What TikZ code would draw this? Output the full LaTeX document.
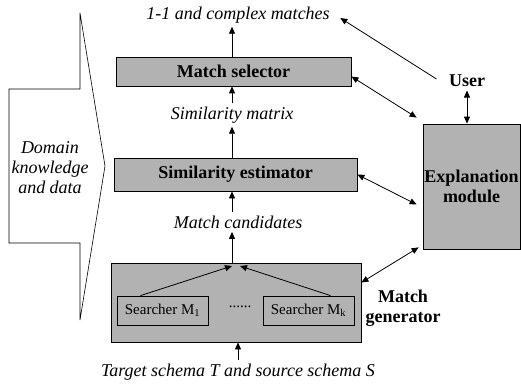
\documentclass[tikz,border=0pt]{standalone}
\usepackage{fontspec}
\setmainfont{Liberation Serif}
\usetikzlibrary{arrows.meta,positioning}
\definecolor{boxgray}{RGB}{178,178,178}
\tikzset{
  stage/.style={draw,fill=boxgray,line width=0.8pt,inner sep=0pt,font=\fontsize{18}{20}\selectfont\bfseries},
  searcher/.style={draw,line width=0.8pt,inner sep=0pt,minimum width=91pt,minimum height=29pt,font=\fontsize{15}{17}\selectfont},
  data/.style={font=\fontsize{18}{20}\selectfont\itshape},
  tag/.style={font=\fontsize{18}{20}\selectfont\bfseries},
  flow/.style={-{Triangle[length=7pt,width=6pt]},line width=0.8pt},
  both/.style={{Triangle[length=7pt,width=6pt]}-{Triangle[length=7pt,width=6pt]},line width=0.8pt},
}
\begin{document}
\begin{tikzpicture}[x=1pt,y=-1pt]
\useasboundingbox (0,0) rectangle (521,385);
% domain knowledge block arrow
\draw[line width=0.6pt] (80,13) -- (80,89) -- (9,89) -- (9,243) -- (80,243) -- (80,320) -- (105,166) -- cycle;
\node[data,align=center] (dom) at (50,168) {Domain\\knowledge\\and data};
% main stages
\node[stage,minimum width=235pt,minimum height=29pt] (sel) at (233.5,71.5) {Match selector};
\node[stage,minimum width=243pt,minimum height=33pt] (est) at (235.5,174.5) {Similarity estimator};
\node[stage,minimum width=250pt,minimum height=79pt] (gen) at (236,302.5) {};
\node[searcher] (m1) at (162.5,310.5) {Searcher M\textsubscript{1}};
\node[searcher] (mk) at (308.5,310.5) {Searcher M\textsubscript{k}};
\node[font=\fontsize{15}{17}\selectfont] (dots) at (240,307) {......};
\coordinate (join) at (236,266);
\node[tag,align=center] (genlbl) at (403,308) {Match\\generator};
\node[stage,minimum width=97pt,minimum height=125pt,align=center] (exp) at (471.5,186.5) {Explanation\\module};
\node[tag] (user) at (467,81) {User};
% data between stages
\node[data] (out) at (238,15) {1-1 and complex matches};
\node[data] (simmat) at (232,115) {Similarity matrix};
\node[data] (cand) at (238,222) {Match candidates};
\node[data] (input) at (238,372) {Target schema T and source schema S};
% flow
\draw[flow] (sel.north -| simmat) -- (out.south -| simmat);
\draw[flow] (simmat.north) -- (sel.south -| simmat);
\draw[flow] (est.north -| simmat) -- (simmat.south);
\draw[flow] (cand.north -| simmat) -- (est.south -| simmat);
\draw[flow] (gen.north -| simmat) -- (cand.south -| simmat);
\draw[flow] ([xshift=-22pt]m1.north) -- ([xshift=-4pt]join);
\draw[flow] ([xshift=22pt]mk.north) -- ([xshift=4pt]join);
\draw[flow] (input.north) -- (input.north |- gen.south);
% explanation links
\draw[flow] ([xshift=-9pt,yshift=2pt]user.west) -- ([xshift=7pt,yshift=-3pt]out.east);
\draw[both] (user.south) -- (exp.north -| user);
\draw[both] ([yshift=-5pt]sel.east) -- ([xshift=-6pt,yshift=6pt]exp.north west);
\draw[both] (est.east) -- ([xshift=-6pt,yshift=-18pt]exp.west);
\draw[both] ([yshift=20pt]gen.east) -- ([xshift=-4pt,yshift=2pt]exp.south west);
\end{tikzpicture}
\end{document}
